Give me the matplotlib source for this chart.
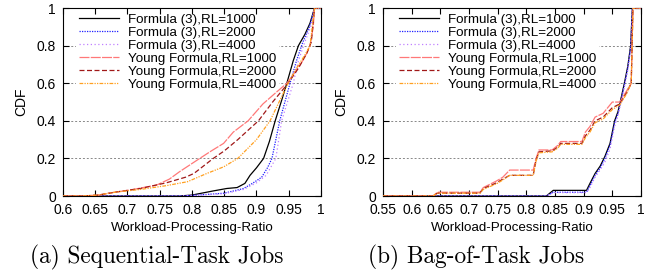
import matplotlib
matplotlib.use("Agg")
import matplotlib.pyplot as plt

plt.rcParams["font.family"] = ["Liberation Sans", "DejaVu Sans"]

labels = ["Formula (3),RL=1000", "Formula (3),RL=2000", "Formula (3),RL=4000",
          "Young Formula,RL=1000", "Young Formula,RL=2000", "Young Formula,RL=4000"]
colors = ["#000000", "#2020ff", "#c080ff", "#ff7878", "#a01818", "#ffa020"]
styles = ["-", (0, (1, 1)), (0, (1, 2)), (0, (8, 1)), (0, (4, 2)), (0, (3, 1, 1, 1, 1, 1))]

# (a) sequential-task jobs: x values and CDF values per series
seq_x = [
    [0.6, 0.78, 0.8, 0.833, 0.854, 0.87, 0.882, 0.89, 0.9, 0.911, 0.92, 0.929, 0.94, 0.947, 0.957, 0.965, 0.975, 0.983, 0.99, 1.0],
    [0.6, 0.78, 0.8, 0.85, 0.88, 0.895, 0.908, 0.917, 0.924, 0.936, 0.952, 0.962, 0.972, 0.982, 0.99, 1.0],
    [0.6, 0.78, 0.8, 0.85, 0.88, 0.9, 0.915, 0.93, 0.939, 0.957, 0.965, 0.975, 0.984, 0.99, 1.0],
    [0.6, 0.63, 0.655, 0.68, 0.704, 0.745, 0.765, 0.781, 0.812, 0.83, 0.849, 0.864, 0.887, 0.91, 0.93, 0.947, 0.96, 0.97, 0.978, 0.983, 0.988, 0.99, 1.0],
    [0.6, 0.63, 0.655, 0.68, 0.72, 0.76, 0.79, 0.803, 0.833, 0.85, 0.871, 0.903, 0.925, 0.949, 0.965, 0.978, 0.985, 0.99, 1.0],
    [0.6, 0.63, 0.655, 0.68, 0.72, 0.76, 0.793, 0.823, 0.849, 0.871, 0.9, 0.921, 0.935, 0.949, 0.962, 0.975, 0.983, 0.99, 1.0],
]
seq_y = [
    [0, 0, 0.005, 0.027, 0.04, 0.045, 0.067, 0.11, 0.15, 0.2, 0.29, 0.4, 0.52, 0.6, 0.72, 0.8, 0.86, 0.92, 1.0, 1.0],
    [0, 0, 0.003, 0.015, 0.04, 0.07, 0.1, 0.15, 0.2, 0.4, 0.6, 0.72, 0.82, 0.9, 1.0, 1.0],
    [0, 0, 0.003, 0.012, 0.035, 0.07, 0.11, 0.2, 0.4, 0.6, 0.72, 0.82, 0.9, 1.0, 1.0],
    [0, 0, 0.005, 0.02, 0.032, 0.058, 0.09, 0.13, 0.2, 0.24, 0.28, 0.34, 0.4, 0.49, 0.55, 0.6, 0.66, 0.71, 0.76, 0.8, 0.9, 1.0, 1.0],
    [0, 0, 0.005, 0.02, 0.04, 0.07, 0.1, 0.12, 0.2, 0.24, 0.3, 0.4, 0.5, 0.6, 0.68, 0.76, 0.82, 1.0, 1.0],
    [0, 0, 0.005, 0.02, 0.035, 0.055, 0.076, 0.12, 0.155, 0.2, 0.3, 0.4, 0.5, 0.6, 0.68, 0.75, 0.8, 1.0, 1.0],
]

# (b) bag-of-task jobs
bag_formula_x = [0.55, 0.835, 0.847, 0.905, 0.911, 0.92, 0.929, 0.937, 0.946, 0.954, 0.96, 0.966, 0.971, 0.977, 0.982, 0.985, 1.0]
bag_formula_y = [[0, 0, 0.03, 0.03, 0.067, 0.12, 0.16, 0.21, 0.28, 0.4, 0.45, 0.53, 0.6, 0.69, 0.8, 1.0, 1.0],
                 [0, 0, 0.02, 0.02, 0.055, 0.11, 0.15, 0.2, 0.27, 0.39, 0.44, 0.52, 0.59, 0.68, 0.79, 1.0, 1.0],
                 [0, 0, 0.018, 0.018, 0.045, 0.1, 0.14, 0.18, 0.25, 0.37, 0.43, 0.51, 0.58, 0.67, 0.78, 1.0, 1.0]]
bag_young_x = [0.55, 0.637, 0.645, 0.719, 0.725, 0.748, 0.759, 0.771, 0.812, 0.817, 0.822, 0.845, 0.855, 0.86, 0.897, 0.903, 0.911, 0.92, 0.934, 0.95, 0.963, 0.975, 0.983, 0.986, 1.0]
bag_young_y = [[0, 0, 0.02, 0.02, 0.045, 0.08, 0.1, 0.138, 0.138, 0.2, 0.245, 0.245, 0.27, 0.29, 0.29, 0.34, 0.37, 0.42, 0.44, 0.5, 0.5, 0.56, 0.6, 1.0, 1.0],
               [0, 0, 0.015, 0.015, 0.04, 0.07, 0.09, 0.11, 0.11, 0.19, 0.235, 0.24, 0.26, 0.28, 0.28, 0.32, 0.35, 0.4, 0.42, 0.47, 0.49, 0.55, 0.6, 1.0, 1.0],
               [0, 0, 0.015, 0.015, 0.035, 0.065, 0.085, 0.11, 0.11, 0.185, 0.23, 0.235, 0.255, 0.275, 0.275, 0.31, 0.34, 0.39, 0.41, 0.46, 0.485, 0.545, 0.6, 1.0, 1.0]]

seq_ticks = [0.6, 0.65, 0.7, 0.75, 0.8, 0.85, 0.9, 0.95, 1.0]
bag_ticks = [0.55, 0.6, 0.65, 0.7, 0.75, 0.8, 0.85, 0.9, 0.95, 1.0]
y_ticks = [0, 0.2, 0.4, 0.6, 0.8, 1.0]
y_ticklabels = ["0", "0.2", "0.4", "0.6", "0.8", "1"]

fig = plt.figure(figsize=(6.61, 2.8), dpi=100)
ax1 = fig.add_axes([0.0953, 0.30, 0.3903, 0.671])
ax2 = fig.add_axes([0.5794, 0.30, 0.3903, 0.671])

for i in range(6):
    ax1.plot(seq_x[i], seq_y[i], color=colors[i], linestyle=styles[i], lw=0.9, label=labels[i], zorder=3)
for i in range(3):
    ax2.plot(bag_formula_x, bag_formula_y[i], color=colors[i], linestyle=styles[i], lw=0.9, label=labels[i], zorder=3)
for i in range(3):
    ax2.plot(bag_young_x, bag_young_y[i], color=colors[i + 3], linestyle=styles[i + 3], lw=0.9, label=labels[i + 3], zorder=3)

for ax, ticks, cap in [(ax1, seq_ticks, "(a) Sequential-Task Jobs"), (ax2, bag_ticks, "(b) Bag-of-Task Jobs")]:
    ax.set_xlim(ticks[0], 1.0)
    ax.set_ylim(0, 1)
    ax.set_xticks(ticks)
    ax.set_xticklabels(["%g" % t for t in ticks])
    ax.set_yticks(y_ticks)
    ax.set_yticklabels(y_ticklabels)
    ax.tick_params(direction="in", top=True, right=True, labelsize=10, length=4, pad=5)
    for t in y_ticks[1:-1]:
        ax.axhline(t, color="#888888", lw=0.7, ls=(0, (2, 2)), zorder=0.5)
    ax.set_xlabel("Workload-Processing-Ratio", fontsize=9.6, labelpad=4)
    ax.set_ylabel("CDF", fontsize=10, labelpad=6)
    leg = ax.legend(loc="upper left", bbox_to_anchor=(0.04, 1.0), fontsize=9.6, frameon=True,
                    handlelength=3.0, handletextpad=0.7, labelspacing=0.05, borderpad=0.2,
                    borderaxespad=0.2)
    leg.get_frame().set_edgecolor("none")
    leg.get_frame().set_facecolor("white")
    leg.get_frame().set_alpha(1.0)
    leg.set_zorder(1)
    bb = ax.get_position()
    fig.text((bb.x0 + bb.x1) / 2 - 0.054, 0.079, cap, ha="center", va="center",
             fontsize=16.8, family="cmr10")

fig.savefig("out.png", dpi=100)
